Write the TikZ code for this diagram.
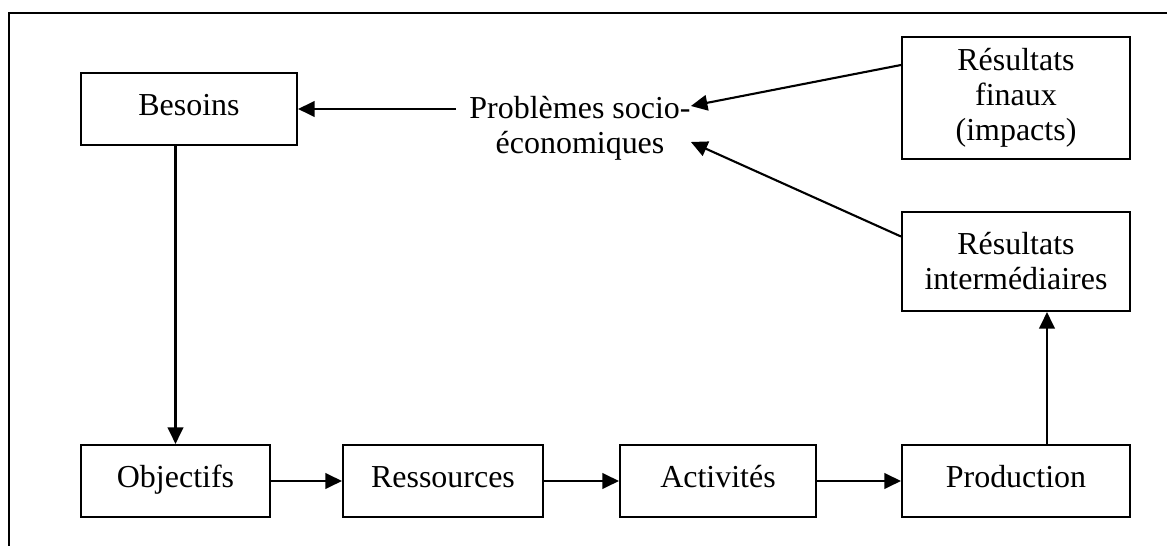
\documentclass[tikz,border=0pt]{standalone}
\usepackage{fontspec}
\setmainfont{Liberation Serif}
\usepackage{tikz}
\usetikzlibrary{arrows.meta}

\tikzset{
	boite/.style={draw, line width=1.2pt, align=center, inner sep=0pt},
	ligne/.style={boite, minimum height=1.44cm, text height=0.41cm, text depth=0.13cm},
	fleche/.style={line width=1.2pt, -{Triangle[length=0.33cm,width=0.31cm]}}
}

\begin{document}
\begin{tikzpicture}[x=0.02cm, y=-0.02cm, font=\fontsize{18.2}{19.9}\selectfont]
			\useasboundingbox (0,0) rectangle (1167,546);
			% Cadre
			\draw [line width=1.2pt] (9,546) -- (9,13) -- (1167,13);
			% Boites
			\node [ligne, minimum width=4.32cm] (besoins) at (189,109) {Besoins};
			\node [align=center, inner sep=0pt] (problemes) at (580,128) {Problèmes socio-\\économiques};
			\node [boite, minimum width=4.56cm, minimum height=2.44cm] (finaux) at (1016,98) {Résultats\\finaux\\(impacts)};
			\node [boite, minimum width=4.56cm, minimum height=1.98cm] (inter) at (1016,261.5) {Résultats\\intermédiaires};
			\node [ligne, minimum width=3.78cm] (objectifs) at (175.5,481) {Objectifs};
			\node [ligne, minimum width=4cm] (ressources) at (443,481) {Ressources};
			\node [ligne, minimum width=3.92cm] (activites) at (718,481) {Activités};
			\node [ligne, minimum width=4.56cm] (production) at (1016,481) {Production};
			% Fleches
			\draw [fleche, shorten <=0.26cm] (problemes.west |- besoins.east) -- (besoins.east);
			\draw [fleche] ([yshift=0.66cm]finaux.west) -- ([yshift=0.44cm]problemes.east);
			\draw [fleche] ([yshift=0.5cm]inter.west) -- ([yshift=-0.28cm]problemes.east);
			\draw [fleche] (objectifs.north |- besoins.south) -- (objectifs.north);
			\draw [fleche] (objectifs) -- (ressources);
			\draw [fleche] (ressources) -- (activites);
			\draw [fleche] (activites) -- (production);
			\draw [fleche] ([xshift=0.62cm]production.north) -- ([xshift=0.62cm]inter.south);
		\end{tikzpicture}
\end{document}
